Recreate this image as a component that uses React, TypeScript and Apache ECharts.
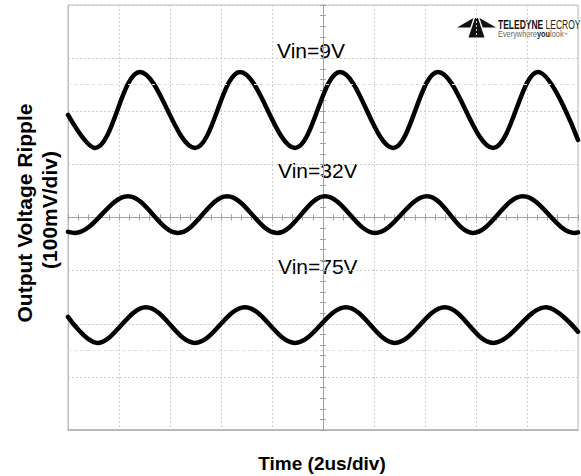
import React, { useEffect, useRef } from 'react';
import * as echarts from 'echarts';

// Time axis (us, trigger at centre, 2 us/div) and voltage axis (mV, 100 mV/div)
const timeMin = -10;
const timeMax = 10;
const timeStep = 2;
const voltMin = -400;
const voltMax = 400;
const voltStep = 100;

// Vin = 9V trace: extrema (us, mV)
const t9 = [-10, -8.94, -7.18, -5.02, -3.25, -1.1, 0.67, 2.75, 4.51, 6.67, 8.43, 10];
const v9 = [193, 131, 274, 131, 274, 131, 274, 131, 274, 131, 274, 146];

// Vin = 32V trace
const t32 = [-10, -9.73, -7.65, -5.69, -3.76, -1.8, 0.08, 2.04, 4.08, 5.88, 7.84, 9.88, 10];
const v32 = [-27, -29, 40, -29, 40, -29, 40, -29, 40, -29, 40, -29, -28];

// Vin = 75V trace
const t75 = [-10, -8.86, -6.94, -5.02, -3.06, -1.1, 0.9, 2.82, 4.78, 6.67, 8.75, 10];
const v75 = [-187, -236, -169, -236, -169, -236, -169, -236, -169, -236, -169, -215];

// faint reference levels
const refLevels = [250, -250];

const traceLabels = ['Vin=9V', 'Vin=32V', 'Vin=75V'];
const yTitle1 = 'Output Voltage Ripple';
const yTitle2 = '(100mV/div)';
const xTitle = 'Time (2us/div)';

const pairs = (t: number[], v: number[]) => t.map((x, i) => [x, v[i]]);

const FONT = "'Liberation Sans', Arial, Helvetica, sans-serif";

export default function App() {
  const ref = useRef<HTMLDivElement>(null);
  useEffect(() => {
    if (!ref.current) return;
    const chart = echarts.init(ref.current, undefined, { renderer: 'svg' });
    const gridCol = '#cdcdcd';
    const axisCol = '#a0a0a0';
    const baseX = {
      type: 'value' as const,
      min: timeMin,
      max: timeMax,
      interval: timeStep,
      axisLabel: { show: false },
    };
    const baseY = {
      type: 'value' as const,
      min: voltMin,
      max: voltMax,
      interval: voltStep,
      axisLabel: { show: false },
    };
    const trace = (name: string, data: number[][], extra: any = {}) => ({
      name,
      type: 'line',
      xAxisIndex: 0,
      yAxisIndex: 0,
      data,
      smooth: 0.36,
      symbol: 'none',
      lineStyle: { color: '#000', width: 4.5, join: 'round', cap: 'round' },
      silent: true,
      ...extra,
    });
    chart.setOption({
      animation: false,
      backgroundColor: '#fff',
      grid: {
        left: 68,
        right: 3,
        top: 5,
        bottom: 46,
        show: true,
        borderColor: '#bdbdbd',
        borderWidth: 1,
      },
      xAxis: [
        {
          ...baseX,
          position: 'bottom',
          axisLine: { show: true, onZero: false, lineStyle: { color: '#b0b0b0', width: 1.5 } },
          axisTick: { show: false },
          splitLine: { show: true, lineStyle: { color: gridCol, type: [2, 2], width: 1 } },
        },
        {
          ...baseX,
          position: 'top',
          axisLine: { show: true, onZero: true, onZeroAxisIndex: 0, lineStyle: { color: axisCol, width: 1 } },
          axisTick: { show: true, inside: false, length: 3, lineStyle: { color: axisCol } },
          minorTick: { show: true, splitNumber: 5, length: 3, lineStyle: { color: axisCol } },
          splitLine: { show: false },
        },
        {
          ...baseX,
          position: 'top',
          axisLine: { show: false, onZero: true, onZeroAxisIndex: 0 },
          axisTick: { show: true, inside: true, length: 3, lineStyle: { color: axisCol } },
          minorTick: { show: true, splitNumber: 5, length: 3, lineStyle: { color: axisCol } },
          splitLine: { show: false },
        },
      ],
      yAxis: [
        {
          ...baseY,
          position: 'left',
          axisLine: { show: true, onZero: false, lineStyle: { color: '#bdbdbd', width: 1 } },
          axisTick: { show: false },
          splitLine: { show: true, lineStyle: { color: gridCol, type: [2, 2], width: 1 } },
        },
        {
          ...baseY,
          position: 'right',
          axisLine: { show: true, onZero: true, onZeroAxisIndex: 0, lineStyle: { color: axisCol, width: 1 } },
          axisTick: { show: true, inside: false, length: 3, lineStyle: { color: axisCol } },
          minorTick: { show: true, splitNumber: 5, length: 3, lineStyle: { color: axisCol } },
          splitLine: { show: false },
        },
        {
          ...baseY,
          position: 'right',
          axisLine: { show: false, onZero: true, onZeroAxisIndex: 0 },
          axisTick: { show: true, inside: true, length: 3, lineStyle: { color: axisCol } },
          minorTick: { show: true, splitNumber: 5, length: 3, lineStyle: { color: axisCol } },
          splitLine: { show: false },
        },
      ],
      series: [
        trace('Vin=9V', pairs(t9, v9), {
          markLine: {
            silent: true,
            symbol: 'none',
            label: { show: false },
            lineStyle: { color: '#dddddd', type: [3, 3], width: 1 },
            data: refLevels.map((y) => ({ yAxis: y })),
          },
        }),
        trace('Vin=32V', pairs(t32, v32)),
        trace('Vin=75V', pairs(t75, v75)),
      ],
      graphic: [
        {
          type: 'text',
          x: 277,
          y: 50,
          style: { text: traceLabels[0], font: `21px ${FONT}`, fill: '#000', align: 'left', verticalAlign: 'middle' },
        },
        {
          type: 'text',
          x: 278,
          y: 170,
          style: { text: traceLabels[1], font: `21px ${FONT}`, fill: '#000', align: 'left', verticalAlign: 'middle' },
        },
        {
          type: 'text',
          x: 278,
          y: 266,
          style: { text: traceLabels[2], font: `21px ${FONT}`, fill: '#000', align: 'left', verticalAlign: 'middle' },
        },
        {
          type: 'text',
          x: 24,
          y: 213,
          rotation: Math.PI / 2,
          style: { text: yTitle1, font: `bold 21px ${FONT}`, fill: '#000', align: 'center', verticalAlign: 'middle' },
        },
        {
          type: 'text',
          x: 49,
          y: 210,
          rotation: Math.PI / 2,
          style: { text: yTitle2, font: `bold 21px ${FONT}`, fill: '#000', align: 'center', verticalAlign: 'middle' },
        },
        {
          type: 'text',
          x: 322,
          y: 463,
          style: { text: xTitle, font: `bold 19px ${FONT}`, fill: '#000', align: 'center', verticalAlign: 'middle' },
        },
        // Teledyne LeCroy logo
        {
          type: 'group',
          x: 457,
          y: 18,
          children: [
            { type: 'polygon', shape: { points: [[0, 9.5], [16.5, 0], [13.3, 9.5]] }, style: { fill: '#111' } },
            { type: 'polygon', shape: { points: [[39, 9.5], [22.5, 0], [25.7, 9.5]] }, style: { fill: '#111' } },
            { type: 'polygon', shape: { points: [[18, 0], [21, 0], [27.5, 19.5], [11.5, 19.5]] }, style: { fill: '#111' } },
          ],
        },
        {
          type: 'text',
          x: 498,
          y: 24.5,
          scaleX: 0.68,
          style: {
            text: '{b|TELEDYNE} {r|LECROY}',
            verticalAlign: 'middle',
            align: 'left',
            rich: {
              b: { font: `bold 12.5px ${FONT}`, fill: '#111' },
              r: { font: `12.5px ${FONT}`, fill: '#222' },
            },
          },
        },
        {
          type: 'text',
          x: 498,
          y: 34,
          scaleX: 0.82,
          style: {
            text: '{g|Everywhere}{k|you}{g|look}{s|™}',
            verticalAlign: 'middle',
            align: 'left',
            rich: {
              g: { font: `9px ${FONT}`, fill: '#666' },
              k: { font: `bold 9px ${FONT}`, fill: '#222' },
              s: { font: `5px ${FONT}`, fill: '#666' },
            },
          },
        },
      ],
    });
    return () => chart.dispose();
  }, []);
  return (
    <div
      ref={ref}
      style={{ position: 'fixed', left: 0, top: 0, width: 581, height: 476, background: '#fff' }}
    />
  );
}
